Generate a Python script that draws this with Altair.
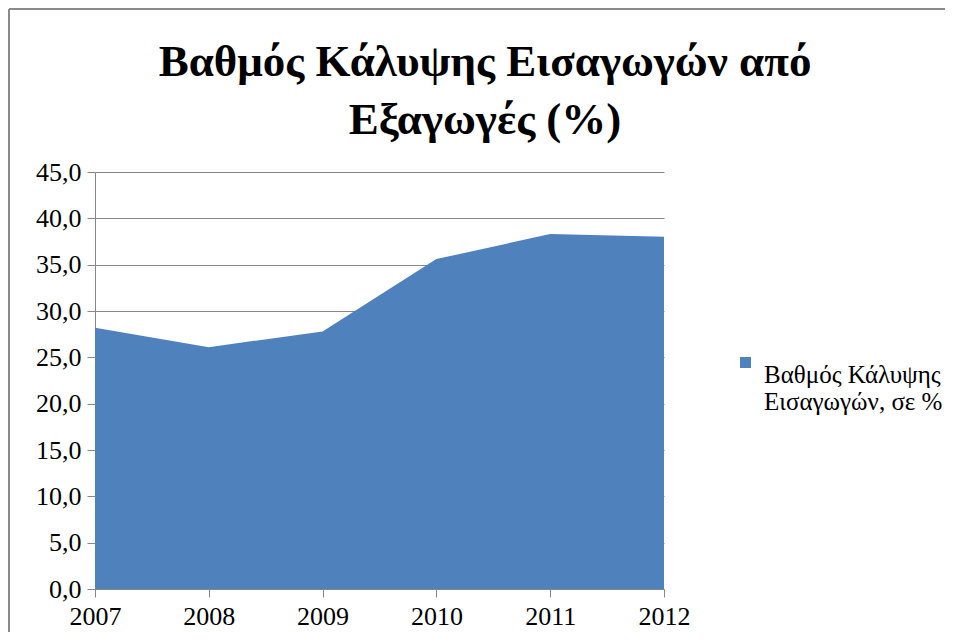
import altair as alt
import pandas as pd

years = ["2007", "2008", "2009", "2010", "2011", "2012"]
coverage = [28.2, 26.1, 27.8, 35.6, 38.3, 38.0]
series_name = "Βαθμός Κάλυψης Εισαγωγών, σε %"
legend_lines = ["Βαθμός Κάλυψης", "Εισαγωγών, σε %"]
title_lines = ["Βαθμός Κάλυψης Εισαγωγών από", "Εξαγωγές (%)"]
y_ticks = [0, 5, 10, 15, 20, 25, 30, 35, 40, 45]

df = pd.DataFrame({"year": years, "value": coverage, "series": series_name})

FONT = "Liberation Serif"
GRID = "#878787"
BLUE = "#4F81BD"

base = alt.Chart(df)

area = base.mark_area(color=BLUE, opacity=1).encode(
    x=alt.X("year:O", scale=alt.Scale(type="point", padding=0),
            axis=alt.Axis(title=None, labelAngle=0, labelFont=FONT, labelFontSize=26,
                          labelColor="black", labelPadding=6, tickSize=8,
                          tickColor=GRID, domainColor=GRID, grid=False)),
    y=alt.Y("value:Q", scale=alt.Scale(domain=[0, 45], nice=False),
            axis=alt.Axis(title=None, values=y_ticks,
                          labelExpr="replace(format(datum.value, '.1f'), '.', ',')",
                          labelFont=FONT, labelFontSize=26, labelColor="black",
                          labelPadding=6, tickSize=8, tickColor=GRID,
                          domainColor=GRID, gridColor=GRID, gridWidth=1)),
    color=alt.Color("series:N", scale=alt.Scale(range=[BLUE]),
                    legend=alt.Legend(title=None, orient="none", legendX=638, legendY=178,
                                      symbolType="square", symbolSize=121,
                                      symbolStrokeWidth=0, symbolOpacity=1,
                                      labelFont=FONT, labelFontSize=25, labelColor="black",
                                      labelLimit=400, labelOffset=6, labelBaseline="top",
                                      labelExpr="['Βαθμός Κάλυψης', 'Εισαγωγών, σε %']")),
)

title1 = alt.Chart(pd.DataFrame({"t": [title_lines[0]]})).mark_text(
    font=FONT, fontSize=45, fontWeight="bold", color="black", baseline="middle", align="center"
).encode(text="t:N", x=alt.value(390), y=alt.value(-110))
title2 = alt.Chart(pd.DataFrame({"t": [title_lines[1]]})).mark_text(
    font=FONT, fontSize=45, fontWeight="bold", color="black", baseline="middle", align="center"
).encode(text="t:N", x=alt.value(390), y=alt.value(-52))

frame_top = alt.Chart(pd.DataFrame({"a": [0]})).mark_rule(
    stroke="#8a8a8a", strokeWidth=2
).encode(x=alt.value(-86), x2=alt.value(850), y=alt.value(-163))
frame_left = alt.Chart(pd.DataFrame({"a": [0]})).mark_rule(
    stroke="#8a8a8a", strokeWidth=2
).encode(x=alt.value(-86), y=alt.value(-163), y2=alt.value(460))

chart = alt.layer(frame_top, frame_left, area, title1, title2).properties(
    width=569, height=417,
    autosize=alt.AutoSizeParams(type="none"),
    padding={"left": 87, "top": 164, "right": 281, "bottom": 43},
).configure(font=FONT).configure_view(stroke=None)

chart.save("out.html", embed_options={"renderer": "svg", "actions": False})
